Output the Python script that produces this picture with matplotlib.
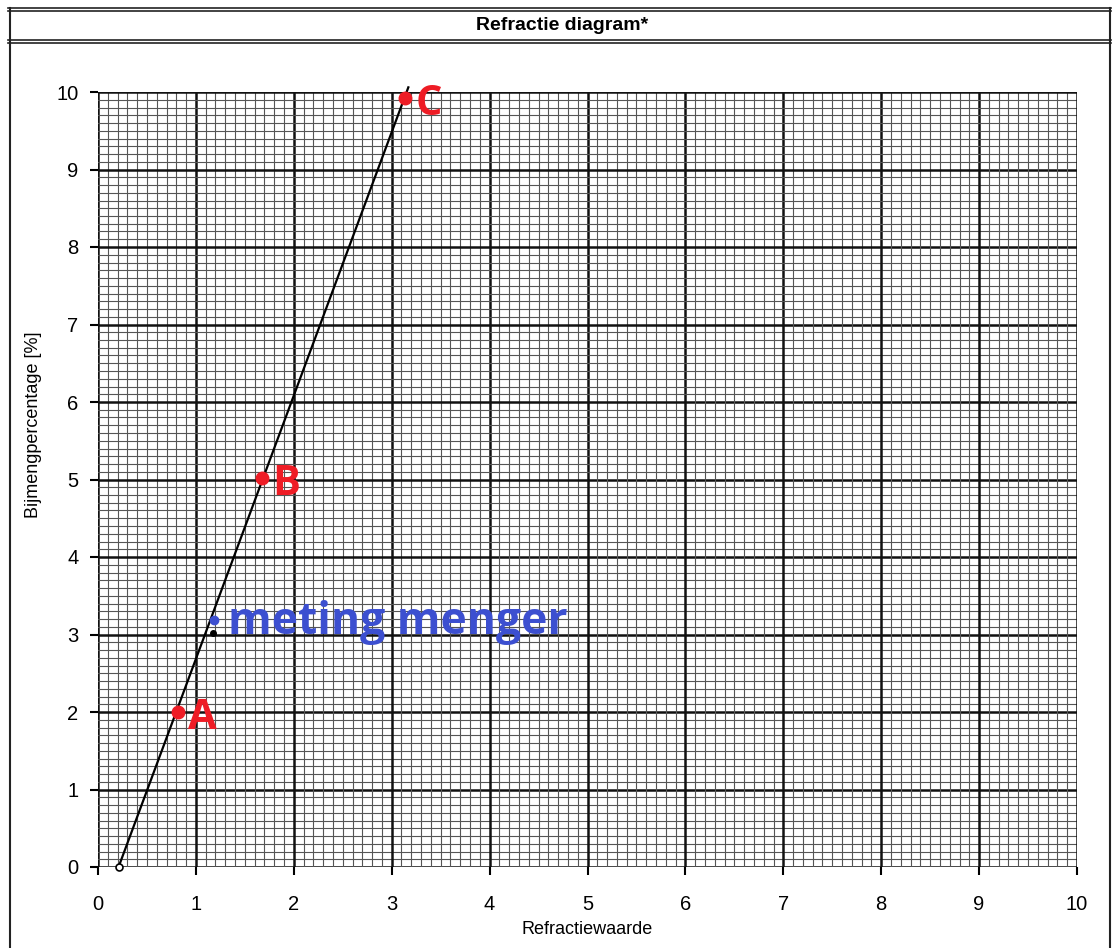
import matplotlib.pyplot as plt
import numpy as np
from matplotlib.lines import Line2D

# calibration line (refractiewaarde -> bijmengpercentage)
line_x = [0.21, 3.17]
line_y = [0.0, 10.06]

# red reference points
pts_labels = ["A", "B", "C"]
pts_x = [0.82, 1.68, 3.14]
pts_y = [2.0, 5.02, 9.92]

# measurement of the mixture
meting_x = [1.18]
meting_y = [3.19]
black_x = [1.17]
black_y = [3.02]

x_ticks = list(range(0, 11))
y_ticks = list(range(0, 11))

fig = plt.figure(figsize=(11.13, 9.48), dpi=100)
plt.rcParams['font.family'] = ['Liberation Sans', 'DejaVu Sans']

# outer frame and title band
W, H = 1113, 948
def fx(px):
    return px / W
def fy(py):
    return 1 - py / H

for y in [8, 11, 40, 43]:
    fig.add_artist(Line2D([fx(8), fx(1111)], [fy(y), fy(y)], color='#222', lw=1.2))
fig.add_artist(Line2D([fx(10), fx(10)], [fy(8), fy(948)], color='#222', lw=1.5))
fig.add_artist(Line2D([fx(1110), fx(1110)], [fy(8), fy(948)], color='#222', lw=1.5))
fig.text(fx(562), fy(26), "Refractie diagram*", ha='center', va='center',
         fontsize=14, fontweight='bold')

ax = fig.add_axes([fx(98), fy(867), fx(1077) - fx(98), fy(92) - fy(867)])
ax.set_xlim(0, 10)
ax.set_ylim(0, 10)

# graph paper grid
for v in np.arange(0, 10.01, 0.1):
    if round(v * 10) % 10 == 0:
        lw, c = 1.8, '#111'
    else:
        lw, c = 0.8, '#555'
    ax.axvline(v, color=c, lw=lw, zorder=1)
    ax.axhline(v, color=c, lw=lw, zorder=1)

for s in ax.spines.values():
    s.set_visible(False)

ax.set_xticks(x_ticks)
ax.set_yticks(y_ticks)
ax.tick_params(axis='x', length=6, width=1.5, pad=14, labelsize=14.5)
ax.tick_params(axis='y', length=6, width=1.5, pad=8, labelsize=14.5)
ax.set_xlabel("Refractiewaarde", fontsize=13, labelpad=5)
ax.set_ylabel("Bijmengpercentage [%]", fontsize=13)
ax.yaxis.set_label_coords(-0.057, 0.57)

ax.plot(line_x, line_y, color='black', lw=1.6, zorder=3, clip_on=False)
ax.plot(line_x[0], line_y[0], marker='o', ms=5, mfc='white', mec='black', mew=1.2,
        zorder=4, clip_on=False)
ax.plot(black_x, black_y, 'o', color='black', ms=4, zorder=4)

ax.plot(pts_x, pts_y, 'o', color='#ee1c25', ms=9, zorder=5, clip_on=False)
for lab, x, y in zip(pts_labels, pts_x, pts_y):
    ax.text(x + 0.1, y - 0.08, lab, color='#ee1c25', fontsize=30, fontweight='bold',
            family=['Open Sans', 'DejaVu Sans'], va='center', ha='left', zorder=6)

ax.plot(meting_x, meting_y, 'o', color='#3c4fd0', ms=6, zorder=5)
ax.text(meting_x[0] + 0.15, meting_y[0] - 0.04, "meting menger", color='#3c4fd0', fontsize=32,
        fontweight='bold', family=['Open Sans', 'DejaVu Sans'], va='center', ha='left', zorder=6)

fig.savefig("out.png", dpi=100)
